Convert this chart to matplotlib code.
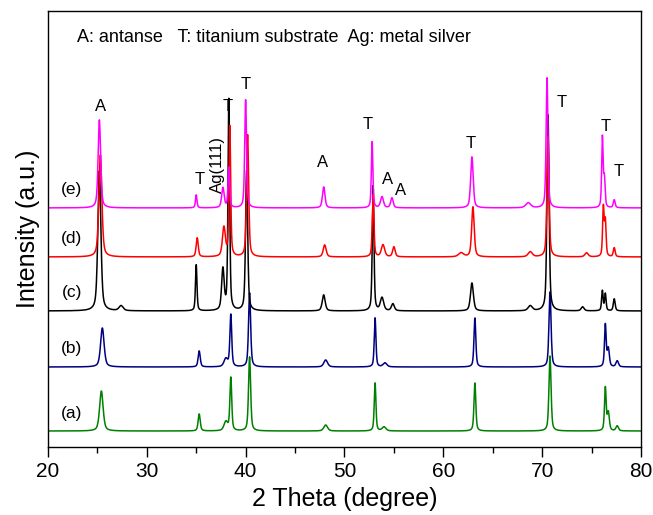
import numpy as np
import matplotlib
matplotlib.use("Agg")
import matplotlib.pyplot as plt

plt.rcParams['font.family'] = ['Liberation Sans', 'DejaVu Sans']

# ================= Data =================
two_theta_min, two_theta_max = 20, 80
step = 0.02

sample_labels = ['(a)', '(b)', '(c)', '(d)', '(e)']
sample_colors = ['#008000', '#000080', '#000000', '#FF0000', '#FF00FF']
# vertical offset of every pattern (arb. units)
offsets = [16, 80, 136, 190, 239]

# peak positions (deg), heights (a.u.), widths (FWHM, deg)
pos_a = [25.4, 35.3, 38.0, 38.5, 40.4, 48.1, 53.1, 54.0, 63.2, 70.8, 76.4, 76.7, 77.6]
hgt_a = [40, 17, 9, 53, 74, 6, 48, 4, 48, 75, 43, 18, 5]
wid_a = [0.42, 0.25, 0.45, 0.22, 0.25, 0.45, 0.2, 0.45, 0.22, 0.25, 0.2, 0.25, 0.3]

pos_b = [25.5, 35.3, 38.0, 38.5, 40.4, 48.1, 53.1, 54.1, 63.2, 70.8, 76.4, 76.7, 77.6]
hgt_b = [39, 16, 8, 52, 74, 7, 49, 4, 49, 75, 42, 18, 6]
wid_b = [0.42, 0.25, 0.45, 0.22, 0.25, 0.45, 0.2, 0.45, 0.22, 0.25, 0.2, 0.25, 0.3]

pos_c = [25.2, 27.4, 35.0, 37.7, 38.3, 40.1, 47.9, 52.9, 53.8, 54.9, 62.9, 68.8, 70.6, 74.1, 76.1, 76.4, 77.3]
hgt_c = [140, 5, 46, 41, 211, 140, 16, 125, 13, 7, 28, 5, 196, 4, 20, 17, 12]
wid_c = [0.36, 0.5, 0.18, 0.3, 0.2, 0.25, 0.35, 0.2, 0.4, 0.35, 0.35, 0.5, 0.25, 0.35, 0.18, 0.18, 0.22]

pos_d = [25.3, 35.1, 37.8, 38.4, 40.2, 48.0, 52.9, 53.9, 55.0, 61.8, 63.0, 68.8, 70.6, 74.5, 76.2, 76.4, 77.3]
hgt_d = [102, 19, 29, 130, 122, 12, 62, 12, 10, 4, 50, 5, 120, 4, 49, 35, 9]
wid_d = [0.36, 0.25, 0.35, 0.2, 0.25, 0.35, 0.2, 0.4, 0.3, 0.6, 0.3, 0.5, 0.25, 0.4, 0.18, 0.18, 0.22]

pos_e = [25.2, 35.0, 37.7, 38.3, 40.0, 47.9, 52.8, 53.8, 54.8, 62.9, 68.6, 70.5, 76.1, 76.3, 77.3]
hgt_e = [88, 13, 20, 40, 108, 21, 66, 11, 10, 51, 5, 130, 70, 28, 8]
wid_e = [0.3, 0.18, 0.3, 0.2, 0.22, 0.3, 0.18, 0.35, 0.3, 0.3, 0.6, 0.22, 0.17, 0.18, 0.22]

peak_sets = [
    (pos_a, hgt_a, wid_a),
    (pos_b, hgt_b, wid_b),
    (pos_c, hgt_c, wid_c),
    (pos_d, hgt_d, wid_d),
    (pos_e, hgt_e, wid_e),
]


def pattern(x, positions, heights, widths):
    # pseudo-Voigt profile summed over all the peaks
    y = np.zeros_like(x)
    for p, h, w in zip(positions, heights, widths):
        g = np.exp(-4 * np.log(2) * ((x - p) / w) ** 2)
        l = 1 / (1 + 4 * ((x - p) / w) ** 2)
        y += h * (0.5 * g + 0.5 * l)
    return y


two_theta = np.arange(two_theta_min, two_theta_max + step, step)

fig = plt.figure(figsize=(6.53, 5.15), dpi=100)
ax = fig.add_axes([0.0735, 0.132, 0.908, 0.847])

for (pos, hgt, wid), off, col, lab in zip(peak_sets, offsets, sample_colors, sample_labels):
    ax.plot(two_theta, off + pattern(two_theta, pos, hgt, wid), color=col, lw=1.1)
    ax.text(22.4, off + 18, lab, fontsize=12.5, ha='center', va='center')

# phase marks
peak_marks = [
    ('A', 25.35, 340), ('T', 35.3, 267), ('T', 38.2, 340), ('T', 40.0, 362),
    ('A', 47.8, 284), ('T', 52.4, 322), ('A', 54.4, 267), ('A', 55.7, 256),
    ('T', 62.8, 303), ('T', 72.0, 344), ('T', 76.4, 320), ('T', 77.8, 275),
]
for txt, x, y in peak_marks:
    ax.text(x, y, txt, fontsize=12, ha='center', va='center')
ax.text(37.1, 282, 'Ag(111)', fontsize=12, ha='center', va='center', rotation=90)

ax.text(22.9, 409, 'A: antanse   T: titanium substrate  Ag: metal silver',
        fontsize=13, ha='left', va='center')

ax.set_xlim(two_theta_min, two_theta_max)
ax.set_ylim(0, 436)
ax.set_xticks(range(20, 81, 10))
ax.set_xticks(range(25, 80, 10), minor=True)
ax.set_yticks([])
ax.tick_params(axis='x', which='major', direction='out', length=7, width=1, labelsize=15, pad=4)
ax.tick_params(axis='x', which='minor', direction='out', length=4, width=1)
ax.set_xlabel('2 Theta (degree)', fontsize=18, labelpad=4)
ax.set_ylabel('Intensity (a.u.)', fontsize=18, labelpad=6)
for s in ax.spines.values():
    s.set_linewidth(1.0)

fig.savefig('out.png', dpi=100)
